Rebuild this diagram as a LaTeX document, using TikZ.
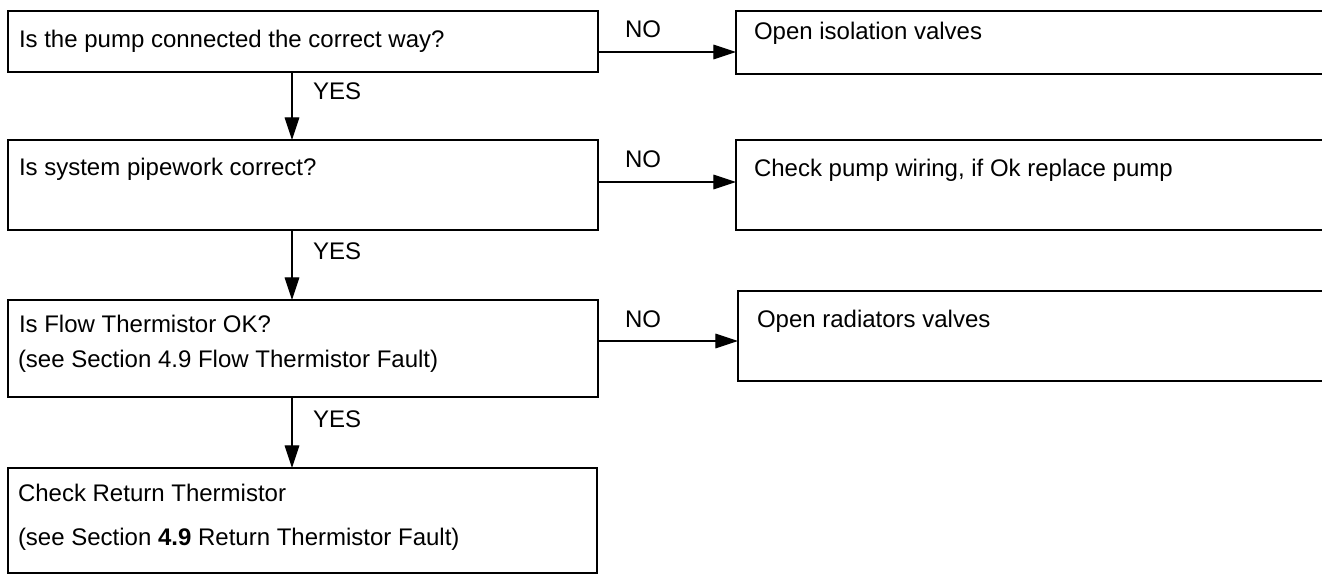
\documentclass[tikz,border=0pt]{standalone}
\usepackage{fontspec}
\setmainfont{Liberation Sans}
\usetikzlibrary{arrows.meta}
\begin{document}
\begin{tikzpicture}[x=0.75pt,y=-0.75pt,
  every node/.style={font=\fontsize{18pt}{21pt}\selectfont},
  box/.style={draw=black,line width=0.8pt,rectangle,inner sep=0pt,outer sep=0pt,anchor=north west},
  txt/.style={anchor=base west,inner sep=0pt,outer sep=0pt},
  arr/.style={draw=black,line width=0.8pt,-{Triangle[length=17pt,width=11pt]}}]
\useasboundingbox (0,0) rectangle (1322,577);
\clip (0,0) rectangle (1322,577);
% left column boxes
\node[box,minimum width=442.5pt,minimum height=45.75pt] (b1) at (8,11) {};
\node[box,minimum width=442.5pt,minimum height=67.5pt] (b2) at (8,140) {};
\node[box,minimum width=442.5pt,minimum height=72.75pt] (b3) at (8,300) {};
\node[box,minimum width=441.75pt,minimum height=78.75pt] (b4) at (8,468) {};
% right column boxes (cut by the right edge)
\node[box,minimum width=453pt,minimum height=47.25pt] (r1) at (736,11) {};
\node[box,minimum width=453pt,minimum height=67.5pt] (r2) at (736,140) {};
\node[box,minimum width=451.5pt,minimum height=67.5pt] (r3) at (738,291) {};
% texts
\node[txt] (t1) at (19,48) {Is the pump connected the correct way?};
\node[txt] (t2) at (19,176) {Is system pipework correct?};
\node[txt] (t3a) at (19,333) {Is Flow Thermistor OK?};
\node[txt] (t3b) at (18,368) {(see Section 4.9 Flow Thermistor Fault)};
\node[txt] (t4a) at (18,502) {Check Return Thermistor};
\node[txt] (t4b) at (18,545) {(see Section \textbf{4.9} Return Thermistor Fault)};
\node[txt] (s1) at (754,40) {Open isolation valves};
\node[txt] (s2) at (754,177) {Check pump wiring, if Ok replace pump};
\node[txt] (s3) at (757,328) {Open radiators valves};
% connector labels
\node[txt] (y1) at (313,100) {YES};
\node[txt] (y2) at (313,260) {YES};
\node[txt] (y3) at (313,428) {YES};
\node[txt] (n1) at (625,38) {NO};
\node[txt] (n2) at (625,168) {NO};
\node[txt] (n3) at (625,328) {NO};
% connector guides
\coordinate (vx) at (292,0);
\coordinate (h1) at (0,52);
\coordinate (h2) at (0,182);
\coordinate (h3) at (0,341);
% connectors
\draw[arr] (b1.south -| vx) -- (b2.north -| vx);
\draw[arr] (b2.south -| vx) -- (b3.north -| vx);
\draw[arr] (b3.south -| vx) -- (b4.north -| vx);
\draw[arr] (b1.east |- h1) -- (r1.west |- h1);
\draw[arr] (b2.east |- h2) -- (r2.west |- h2);
\draw[arr] (b3.east |- h3) -- (r3.west |- h3);
\end{tikzpicture}
\end{document}
